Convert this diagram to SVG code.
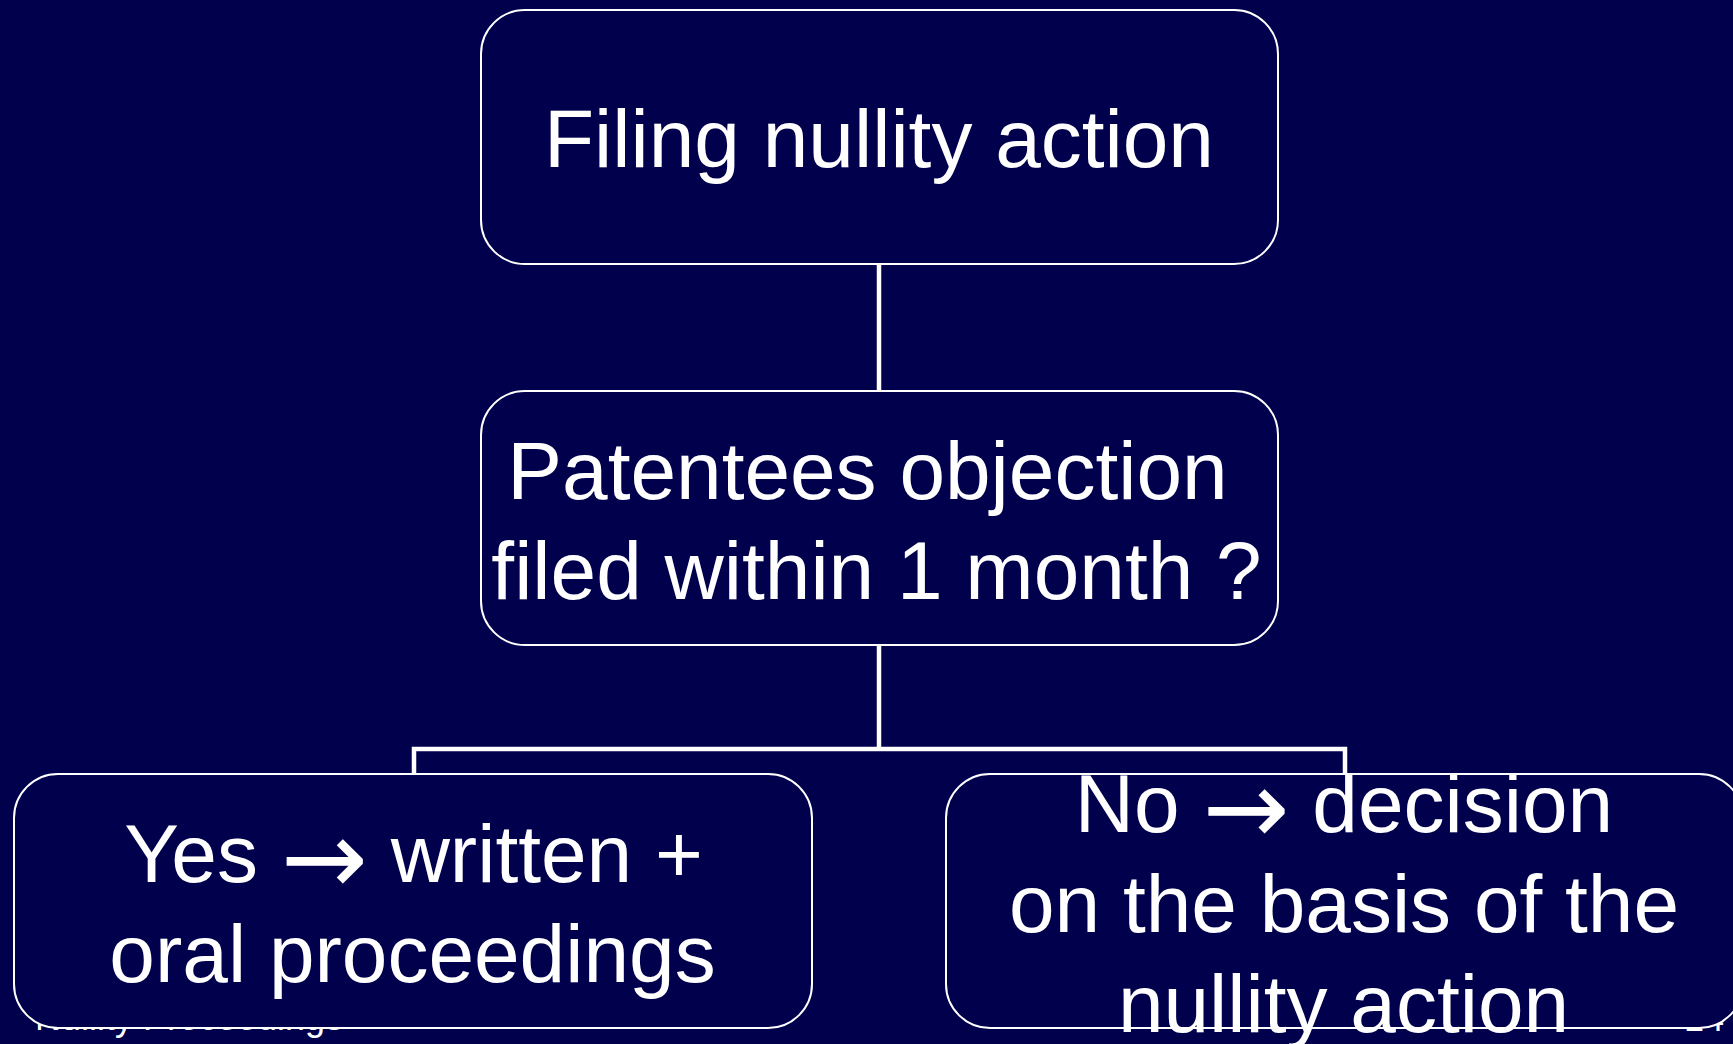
<svg xmlns="http://www.w3.org/2000/svg" width="1733" height="1044" viewBox="0 0 1733 1044">
<style>
.bg{fill:#00004C}
.box{fill:#00004C;stroke:#FFFFFF;stroke-width:2}
.conn{fill:none;stroke:#FFFFFF;stroke-width:4.5}
.t{font-family:"Liberation Sans",Arial,sans-serif;font-size:82px;fill:#FFFFFF;text-anchor:middle}
.arr{font-family:"DejaVu Sans",sans-serif;font-size:104px}
.foot{font-family:"Liberation Sans",Arial,sans-serif;font-size:36px;fill:#FFFFFF}
</style>
<rect class="bg" x="0" y="0" width="1733" height="1044"/>
<g id="footer">
<text class="foot" x="35" y="1030">Nullity Proceedings</text>
<text class="foot" x="1684" y="1031">14</text>
</g>
<g id="connectors">
<line class="conn" x1="879" y1="264" x2="879" y2="391"/>
<line class="conn" x1="879" y1="645" x2="879" y2="749"/>
<polyline class="conn" points="414,776 414,749 1345,749 1345,776"/>
</g>
<g id="node-filing">
<rect class="box" x="481" y="10" width="797" height="254" rx="44" ry="44"/>
<text class="t" x="879" y="167">Filing nullity action</text>
</g>
<g id="node-objection">
<rect class="box" x="481" y="391" width="797" height="254" rx="44" ry="44"/>
<text class="t" x="867.5" y="499">Patentees objection</text>
<text class="t" x="876.5" y="599">filed within 1 month ?</text>
</g>
<g id="node-yes">
<rect class="box" x="14" y="774" width="798" height="254" rx="44" ry="44"/>
<text class="t" x="413.5" y="882">Yes <tspan class="arr" dy="12">→</tspan><tspan dy="-12"> written +</tspan></text>
<text class="t" x="412.5" y="982">oral proceedings</text>
</g>
<g id="node-no">
<rect class="box" x="946" y="774" width="797" height="254" rx="44" ry="44"/>
<text class="t" x="1344" y="832">No <tspan class="arr" dy="12">→</tspan><tspan dy="-12"> decision</tspan></text>
<text class="t" x="1344" y="932">on the basis of the</text>
<text class="t" x="1343.5" y="1032">nullity action</text>
</g>
</svg>
